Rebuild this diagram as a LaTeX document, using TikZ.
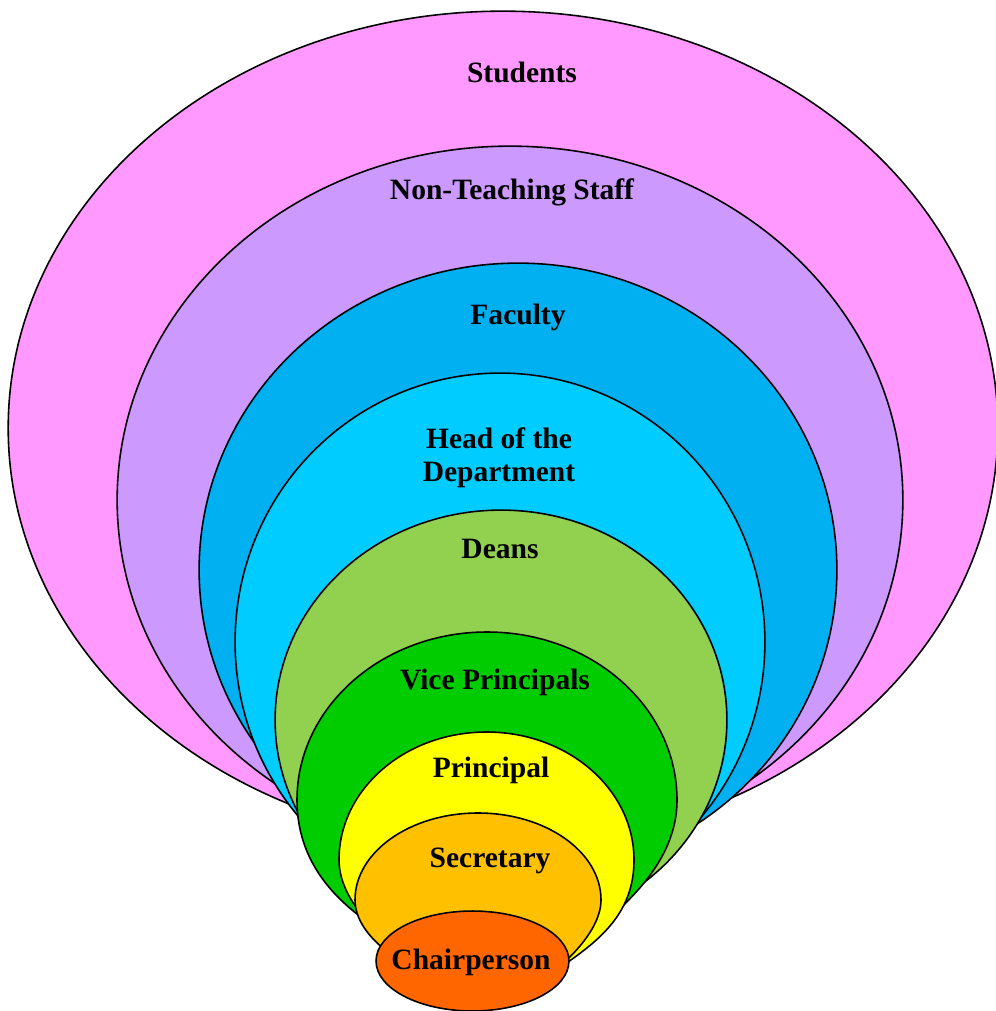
\documentclass[tikz,border=0pt]{standalone}
\usepackage{fontspec}
\setmainfont{Liberation Serif}
\usepackage{xcolor}
\usetikzlibrary{shapes.geometric,positioning}
\definecolor{studentpink}{HTML}{FF99FF}
\definecolor{staffviolet}{HTML}{CC99FF}
\definecolor{facultyblue}{HTML}{00B0F0}
\definecolor{hodcyan}{HTML}{00CCFF}
\definecolor{deanlime}{HTML}{92D050}
\definecolor{vpgreen}{HTML}{00CC00}
\definecolor{principalyellow}{HTML}{FFFF00}
\definecolor{secretaryorange}{HTML}{FFC000}
\definecolor{chairred}{HTML}{FF6600}

\begin{document}
\begin{tikzpicture}[
    x=0.02cm, y=-0.02cm,
    ring/.style 2 args={ellipse, draw=black, line width=0.9pt, inner sep=0pt,
        minimum width=#1*0.04cm, minimum height=#2*0.04cm},
    drop/.style={draw=black, line width=0.9pt},
    lbl/.style={font=\fontsize{16.8}{19}\selectfont\bfseries, align=center, inner sep=0pt}
]
\useasboundingbox (0,0) rectangle (996,1011);

% outer rings
\node[ring={495}{417}, fill=studentpink] (students) at (503,428) {};
\node[ring={393}{354}, fill=staffviolet] (staff) at (510,500) {};
\node[ring={319}{307}, fill=facultyblue] (faculty) at (518,570) {};
\node[ring={265}{269}, fill=hodcyan] (hod) at (500,642) {};
\node[ring={226}{210}, fill=deanlime] (deans) at (501,720) {};

% inner drops, tapering towards the chair
\draw[drop, fill=vpgreen] (297,800) arc[start angle=180, end angle=360, x radius=190, y radius=168]
    .. controls (677,885) and (580,940) .. (515,990)
    .. controls (440,960) and (297,920) .. cycle;
\draw[drop, fill=principalyellow] (339,860) arc[start angle=180, end angle=360, x radius=147.5, y radius=128]
    .. controls (634,930) and (575,955) .. (520,995)
    .. controls (430,985) and (339,920) .. cycle;
\draw[drop, fill=secretaryorange] (355,900) arc[start angle=180, end angle=360, x radius=123, y radius=87]
    .. controls (601,935) and (555,975) .. (520,995)
    .. controls (430,990) and (355,945) .. cycle;
\node[ring={96.5}{50}, fill=chairred] (chair) at (472.5,961) {};

% labels
\node[lbl] (studentsText) at (522,72) {Students};
\node[lbl] (staffText) at (512,192) {Non-Teaching Staff};
\node[lbl] (facultyText) at (518,317) {Faculty};
\node[lbl] (hodText) at (499,458) {Head of the\\Department};
\node[lbl] (deansText) at (500,549) {Deans};
\node[lbl] (vpText) at (495,682) {Vice Principals};
\node[lbl] (principalText) at (491,770) {Principal};
\node[lbl] (secretaryText) at (490,861) {Secretary};
\node[lbl] (chairText) at (471,962) {Chairperson};
\end{tikzpicture}
\end{document}
